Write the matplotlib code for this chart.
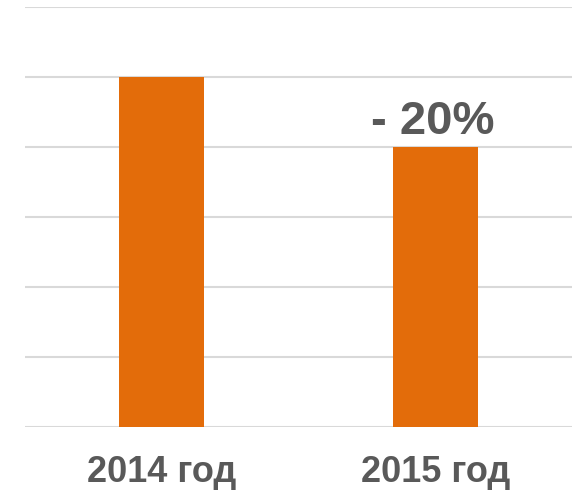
import matplotlib
matplotlib.use("Agg")
import matplotlib.pyplot as plt

categories = ["2014 год", "2015 год"]
values = [100, 80]
change_label = "- 20%"
yticks = [0, 20, 40, 60, 80, 100, 120]

plt.rcParams['font.family'] = ['Liberation Sans', 'DejaVu Sans']

fig = plt.figure(figsize=(5.76, 4.92), dpi=100)
ax = fig.add_axes([25/576, 65/492, 547/576, 420/492])

x = list(range(len(categories)))
ax.bar(x, values, width=0.31, color="#E36C0A", zorder=3)
ax.set_xlim(-0.5, 1.5)
ax.set_ylim(0, 120)
ax.set_yticks(yticks)
ax.set_yticklabels([])
ax.tick_params(axis='y', length=0)
ax.grid(axis='y', color="#D9D9D9", linewidth=1.5, zorder=0)
ax.set_axisbelow(True)
for s in ax.spines.values():
    s.set_visible(False)
ax.set_xticks(x)
ax.set_xticklabels(categories, fontsize=26, fontweight='bold', color="#595959")
ax.tick_params(axis='x', length=0, pad=20)

ax.annotate(change_label, xy=(1, values[1]), xytext=(-2, 9), textcoords='offset points',
            ha='center', va='baseline', fontsize=34, fontweight='bold', color="#595959")

fig.savefig("out.png", dpi=100)
